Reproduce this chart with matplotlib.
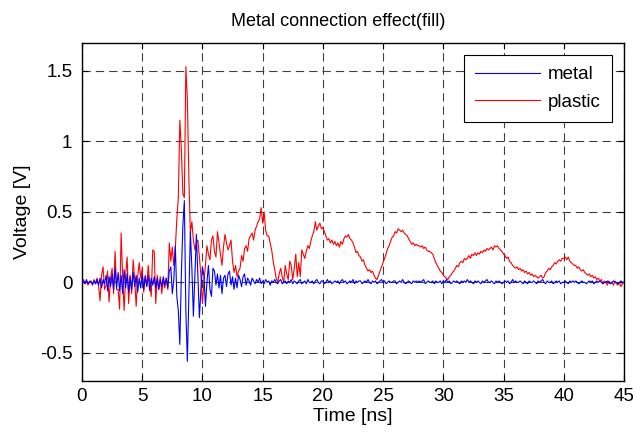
import numpy as np
import matplotlib
matplotlib.use("Agg")
import matplotlib.pyplot as plt

plt.rcParams["font.family"] = ["Liberation Sans", "DejaVu Sans"]
plt.rcParams["lines.scale_dashes"] = False

# sample period of the recordings [ns]
dt = 0.125
t_start = 0.0

# plastic connection, one row per nanosecond
plastic = [
    0.00, 0.02, -0.01, 0.01, -0.02, 0.01, 0.00, -0.01,
    0.02, -0.01, 0.03, -0.02, -0.13, 0.05, 0.11, -0.05,
    -0.02, 0.08, -0.14, 0.03, 0.10, -0.08, 0.22, -0.05,
    -0.05, -0.19, 0.35, 0.05, -0.20, 0.05, 0.18, -0.15,
    0.05, -0.08, 0.16, 0.02, -0.17, 0.04, 0.14, 0.03,
    0.10, -0.07, 0.05, -0.03, 0.12, 0.00, -0.10, 0.23,
    0.22, -0.15, 0.05, -0.05, 0.04, -0.08, 0.02, -0.04,
    0.03, -0.05, 0.28, 0.15, 0.25, 0.12, 0.24, 0.45,
    0.60, 1.15, 0.95, 0.63, 0.60, 1.53, 1.30, 0.75,
    0.35, 0.43, 0.30, 0.23, 0.28, 0.30, 0.18, 0.05,
    -0.15, 0.00, 0.12, 0.26, 0.20, 0.16, 0.30, 0.33,
    0.22, 0.18, 0.36, 0.28, 0.20, 0.12, 0.25, 0.34,
    0.28, 0.23, 0.26, 0.30, 0.15, 0.07, 0.12, 0.04,
    0.08, 0.10, 0.19, 0.15, 0.24, 0.26, 0.22, 0.31,
    0.33, 0.35, 0.30, 0.37, 0.40, 0.43, 0.45, 0.53,
    0.42, 0.50, 0.37, 0.33, 0.33, 0.28, 0.23, 0.15,
    0.09, 0.03, 0.00, 0.06, 0.10, 0.04, 0.00, 0.12,
    0.06, 0.02, 0.15, 0.12, 0.02, 0.10, 0.20, 0.04,
    0.14, 0.04, 0.23, 0.20, 0.17, 0.22, 0.26, 0.24,
    0.29, 0.33, 0.36, 0.43, 0.37, 0.40, 0.42, 0.38,
    0.39, 0.36, 0.33, 0.30, 0.31, 0.28, 0.30, 0.27,
    0.29, 0.26, 0.28, 0.25, 0.29, 0.27, 0.31, 0.33,
    0.32, 0.34, 0.31, 0.30, 0.28, 0.25, 0.21, 0.22,
    0.19, 0.18, 0.15, 0.16, 0.12, 0.10, 0.08, 0.09,
    0.07, 0.08, 0.05, 0.03, 0.02, 0.05, 0.08, 0.11,
    0.14, 0.17, 0.20, 0.24, 0.26, 0.29, 0.32, 0.33,
    0.36, 0.35, 0.38, 0.37, 0.36, 0.37, 0.35, 0.34,
    0.33, 0.31, 0.29, 0.27, 0.28, 0.26, 0.27, 0.26,
    0.26, 0.25, 0.26, 0.24, 0.25, 0.23, 0.22, 0.22,
    0.21, 0.20, 0.17, 0.14, 0.12, 0.10, 0.08, 0.07,
    0.05, 0.04, 0.03, 0.02, 0.04, 0.05, 0.07, 0.08,
    0.10, 0.12, 0.11, 0.14, 0.15, 0.14, 0.17, 0.16,
    0.17, 0.19, 0.17, 0.20, 0.19, 0.21, 0.19, 0.21,
    0.20, 0.22, 0.21, 0.23, 0.22, 0.24, 0.23, 0.24,
    0.25, 0.23, 0.26, 0.25, 0.26, 0.24, 0.23, 0.22,
    0.20, 0.19, 0.17, 0.18, 0.15, 0.14, 0.12, 0.11,
    0.10, 0.11, 0.09, 0.10, 0.08, 0.09, 0.07, 0.08,
    0.06, 0.07, 0.05, 0.06, 0.04, 0.05, 0.04, 0.03,
    0.04, 0.05, 0.03, 0.04, 0.07, 0.08, 0.10, 0.09,
    0.11, 0.12, 0.14, 0.13, 0.15, 0.16, 0.15, 0.17,
    0.17, 0.18, 0.16, 0.18, 0.15, 0.14, 0.13, 0.12,
    0.12, 0.10, 0.11, 0.09, 0.08, 0.09, 0.07, 0.06,
    0.05, 0.06, 0.04, 0.05, 0.03, 0.04, 0.02, 0.03,
    0.01, 0.02, -0.01, 0.01, 0.00, -0.02, 0.01, -0.01,
    0.00, -0.02, 0.01, -0.01, -0.02, 0.00, -0.03, -0.01,
    0.00,
]

# metal connection, one row per nanosecond
metal = [
    0.00, 0.01, -0.01, 0.02, -0.01, 0.00, 0.01, -0.02,
    0.01, -0.01, 0.02, -0.02, 0.03, -0.04, 0.02, -0.01,
    0.05, -0.06, 0.04, -0.03, 0.06, -0.05, 0.10, -0.04,
    0.07, -0.06, 0.05, -0.08, 0.09, -0.04, 0.06, -0.07,
    0.04, -0.05, 0.07, -0.03, 0.05, -0.07, 0.03, -0.04,
    0.06, -0.05, 0.04, -0.03, 0.05, -0.06, 0.03, -0.02,
    0.04, -0.04, 0.03, -0.05, 0.02, -0.03, 0.04, -0.02,
    0.03, -0.04, 0.08, 0.11, -0.08, 0.02, 0.26, -0.10,
    -0.20, -0.44, 0.05, 0.40, 0.58, -0.20, -0.56, -0.10,
    0.36, 0.10, -0.24, 0.05, 0.34, 0.05, -0.25, -0.05,
    0.11, 0.05, -0.17, 0.00, 0.12, -0.05, -0.10, 0.10,
    0.08, -0.02, 0.06, -0.04, 0.05, -0.08, 0.03, 0.05,
    -0.03, 0.06, 0.08, -0.02, 0.04, -0.05, 0.03, -0.04,
    0.05, 0.02, -0.03, 0.04, 0.06, -0.02, 0.03, 0.01,
    -0.02, 0.03, 0.01, -0.01, 0.02, 0.00, 0.03, -0.01,
    0.01, -0.01, 0.02, 0.00, 0.01, -0.02, 0.01, 0.00,
    0.02, 0.00, -0.01, 0.01, 0.02, -0.01, 0.00, 0.01,
    -0.01, 0.01, 0.00, 0.02, -0.01, 0.01, 0.00, -0.01,
    0.01, 0.02, -0.01, 0.00, 0.01, -0.01, 0.02, 0.00,
    0.00, 0.01, -0.01, 0.01, 0.02, 0.00, -0.01, 0.01,
    0.01, -0.01, 0.00, 0.02, 0.00, 0.01, -0.01, 0.00,
    0.01, 0.00, 0.01, -0.01, 0.01, 0.02, 0.00, 0.01,
    -0.01, 0.00, 0.01, 0.00, 0.02, -0.01, 0.01, 0.00,
    0.01, 0.01, -0.01, 0.00, 0.01, 0.00, 0.02, 0.00,
    -0.01, 0.01, 0.00, 0.01, -0.01, 0.00, 0.01, 0.02,
    0.00, 0.01, -0.01, 0.00, 0.01, 0.00, 0.00, 0.01,
    0.01, -0.01, 0.00, 0.01, 0.00, 0.02, 0.00, -0.01,
    0.00, 0.01, 0.00, -0.01, 0.01, 0.00, 0.01, 0.00,
    0.01, 0.00, 0.01, 0.02, -0.01, 0.00, 0.01, 0.00,
    0.00, 0.01, -0.01, 0.01, 0.00, 0.00, 0.01, -0.01,
    0.01, 0.00, 0.02, 0.00, 0.01, -0.01, 0.00, 0.01,
    0.00, 0.01, 0.00, -0.01, 0.01, 0.00, 0.01, 0.00,
    0.02, 0.00, 0.01, 0.00, -0.01, 0.01, 0.00, 0.01,
    0.00, -0.01, 0.01, 0.00, 0.01, 0.02, 0.00, 0.00,
    0.01, 0.00, -0.01, 0.01, 0.00, 0.01, 0.00, -0.01,
    0.00, 0.01, 0.00, 0.01, -0.01, 0.00, 0.02, 0.00,
    0.01, 0.00, 0.00, 0.01, 0.00, -0.01, 0.01, 0.00,
    -0.01, 0.01, 0.00, 0.00, 0.01, 0.00, -0.01, 0.01,
    0.00, 0.01, 0.02, 0.00, -0.01, 0.01, 0.00, 0.00,
    0.01, -0.01, 0.00, 0.01, 0.00, 0.01, -0.01, 0.00,
    0.00, 0.01, 0.00, -0.01, 0.01, 0.00, 0.01, 0.00,
    0.01, 0.00, -0.01, 0.00, 0.01, 0.00, 0.00, -0.01,
    0.00, 0.01, 0.00, 0.01, -0.01, 0.00, 0.01, 0.00,
    0.01, 0.00, -0.01, 0.00, 0.00, 0.01, 0.00, -0.01,
    0.00, 0.01, 0.00, 0.00, -0.01, 0.00, 0.01, 0.00,
    0.00,
]

x_ticks = [0, 5, 10, 15, 20, 25, 30, 35, 40, 45]
y_ticks = [-0.5, 0, 0.5, 1, 1.5]
y_tick_labels = ["-0.5", "0", "0.5", "1", "1.5"]
series_names = ["metal", "plastic"]

t_metal = t_start + dt * np.arange(len(metal))
t_plastic = t_start + dt * np.arange(len(plastic))

fig = plt.figure(figsize=(6.33, 4.36), dpi=100)
ax = fig.add_axes([0.1295, 0.1261, 0.8562, 0.7759])

ax.plot(t_metal, metal, color=(0, 0, 1), lw=0.8, label=series_names[0], zorder=3)
ax.plot(t_plastic, plastic, color=(1, 0, 0), lw=0.8, label=series_names[1], zorder=2)

ax.set_xlim(0, 45)
ax.set_ylim(-0.7, 1.7)
ax.set_xticks(x_ticks)
ax.set_xticklabels([str(v) for v in x_ticks])
ax.set_yticks(y_ticks)
ax.set_yticklabels(y_tick_labels)

ax.grid(True, color="0.25", linestyle=(0, (6.0, 3.6)), linewidth=0.8)
ax.set_axisbelow(True)

ax.tick_params(direction="in", length=4, width=0.8, top=True, right=True,
               labelsize=13.5, colors="black")
ax.tick_params(axis="y", pad=7)
ax.tick_params(axis="x", pad=5)
for s in ax.spines.values():
    s.set_linewidth(1.0)
    s.set_color("black")

ax.set_title("Metal connection effect(fill)", fontsize=13, pad=12, x=0.472)
ax.set_xlabel("Time [ns]", fontsize=14, labelpad=2)
ax.set_ylabel("Voltage [V]", fontsize=14, labelpad=6)

leg = ax.legend(loc="upper right", bbox_to_anchor=(612 / 633, 1 - 55 / 436),
                bbox_transform=fig.transFigure, borderaxespad=0,
                fontsize=13.5, handlelength=3.5, handletextpad=0.4,
                fancybox=False, framealpha=1, edgecolor="black",
                borderpad=0.6, labelspacing=0.55)
leg.get_frame().set_linewidth(0.8)

fig.savefig("out.png", dpi=100)
